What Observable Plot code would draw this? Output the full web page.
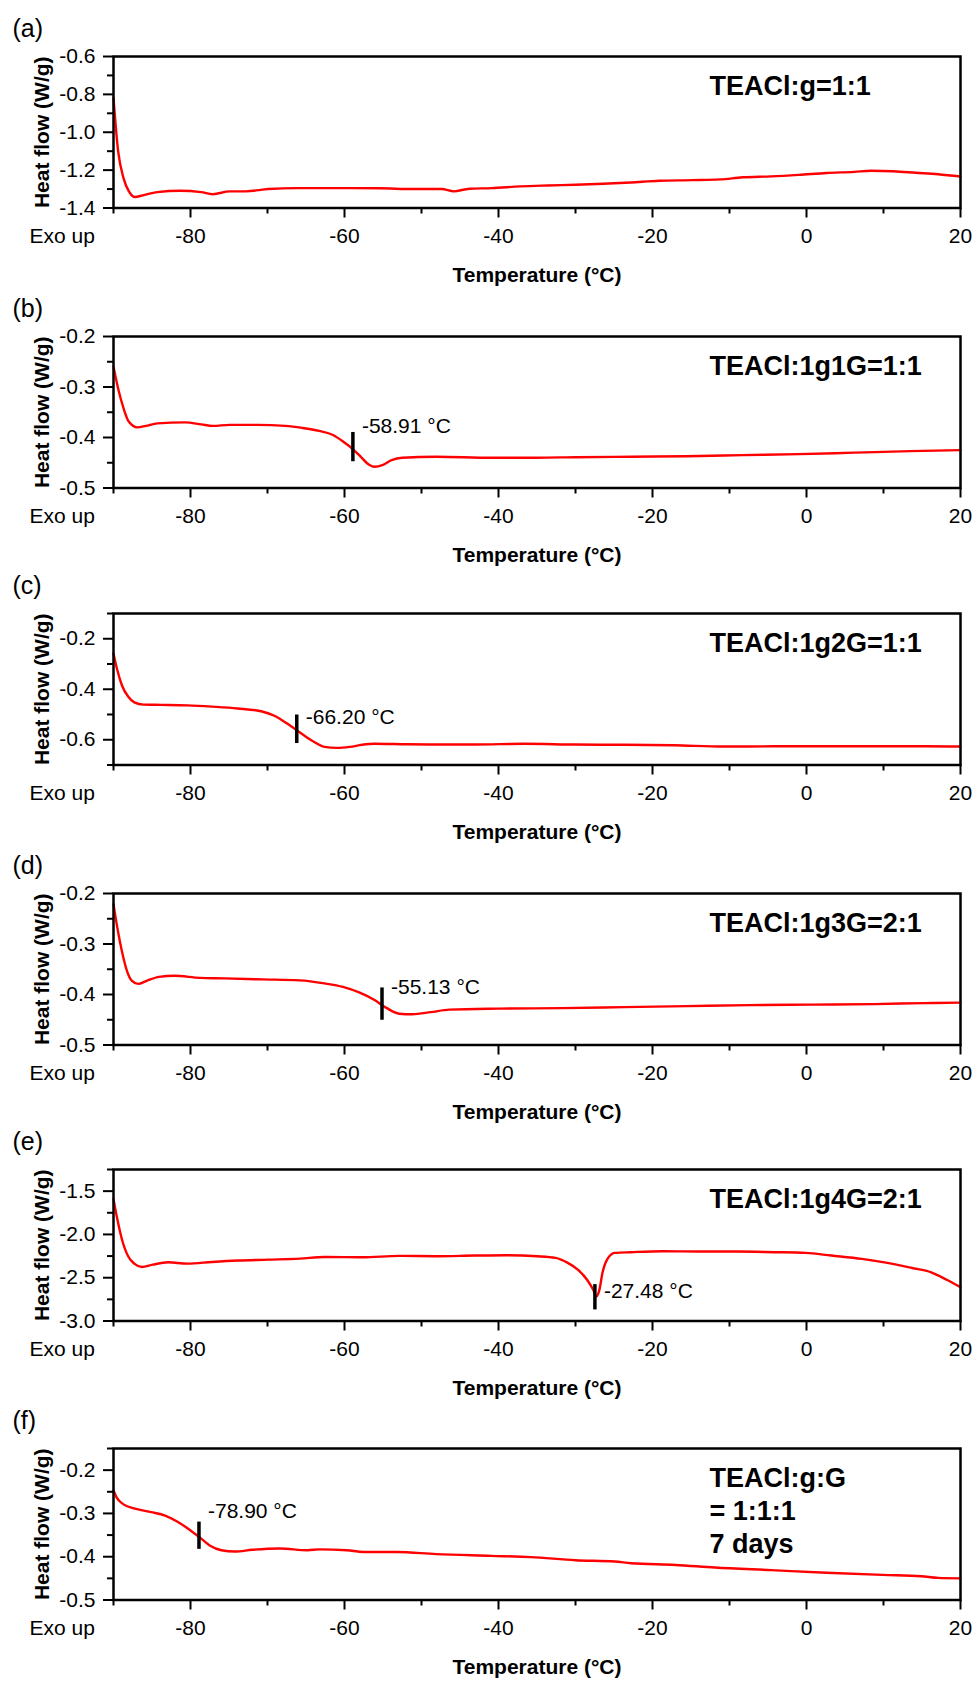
<!DOCTYPE html>
<html><head><meta charset="utf-8">
<script src="https://cdn.jsdelivr.net/npm/d3@7"></script>
<script src="https://cdn.jsdelivr.net/npm/@observablehq/plot@0.6"></script>
<style>
html,body{margin:0;padding:0;background:#fff;}
#chart{width:976px;}
#chart svg{display:block;}
</style></head><body><div id="chart"></div>
<script>
// ---------- data ----------
const panelLetters = ["(a)", "(b)", "(c)", "(d)", "(e)", "(f)"];
const panelTitles = ["TEACl:g=1:1", "TEACl:1g1G=1:1", "TEACl:1g2G=1:1", "TEACl:1g3G=2:1", "TEACl:1g4G=2:1", "TEACl:g:G\n= 1:1:1\n7 days"];
const xLabel = "Temperature (°C)";
const yLabel = "Heat flow (W/g)";
const exoLabel = "Exo up";
const xDomain = [-90, 20];
const xMajorTicks = [-80, -60, -40, -20, 0, 20];
const xMinorTicks = [-90, -70, -50, -30, -10, 10];
const yDomains = [[-1.4, -0.6], [-0.5, -0.2], [-0.7, -0.1], [-0.5, -0.2], [-3.0, -1.25], [-0.5, -0.15]];
const yMajorTicks = [
  [-1.4, -1.2, -1.0, -0.8, -0.6],
  [-0.5, -0.4, -0.3, -0.2],
  [-0.6, -0.4, -0.2],
  [-0.5, -0.4, -0.3, -0.2],
  [-3.0, -2.5, -2.0, -1.5],
  [-0.5, -0.4, -0.3, -0.2]
];
const yMinorTicks = [
  [-1.3, -1.1, -0.9, -0.7],
  [-0.45, -0.35, -0.25],
  [-0.7, -0.5, -0.3, -0.1],
  [-0.45, -0.35, -0.25],
  [-2.75, -2.25, -1.75, -1.25],
  [-0.45, -0.35, -0.25, -0.15]
];

const tempA = [-90, -89.4, -88.7, -88, -87.2, -86.2, -84.3, -81.4, -78.6, -77.1, -74.9, -72.8, -69.9, -66.2, -61.2, -55.4, -51, -47.4, -45.8, -43.8, -40.9, -37.2, -33.6, -30, -26.4, -22.8, -19.1, -14.8, -11.2, -8.3, -4.6, -1, 2.6, 6.2, 8.4, 11.3, 14.2, 17.1, 20];
const flowA = [-0.82, -1.10, -1.242, -1.312, -1.342, -1.333, -1.316, -1.309, -1.316, -1.327, -1.312, -1.312, -1.30, -1.295, -1.295, -1.296, -1.30, -1.30, -1.312, -1.298, -1.295, -1.286, -1.281, -1.277, -1.272, -1.265, -1.256, -1.253, -1.249, -1.238, -1.233, -1.225, -1.215, -1.209, -1.203, -1.206, -1.214, -1.222, -1.234];

const tempB = [-90, -89.4, -88.7, -88, -86.9, -85.8, -84.3, -80.7, -78.6, -77.1, -74.9, -71.3, -67.7, -65.5, -63.3, -61.5, -60.1, -59, -57.9, -56.8, -56.1, -55, -53.9, -52.5, -48.1, -40.9, -35.1, -30, -22.8, -15.5, -8.3, -1, 6.2, 13.5, 20];
const flowB = [-0.26, -0.303, -0.342, -0.369, -0.380, -0.377, -0.372, -0.370, -0.374, -0.377, -0.375, -0.375, -0.377, -0.381, -0.387, -0.395, -0.409, -0.422, -0.438, -0.454, -0.458, -0.454, -0.445, -0.44, -0.438, -0.44, -0.44, -0.439, -0.438, -0.437, -0.435, -0.433, -0.43, -0.427, -0.425];

const tempC = [-90, -89.5, -88.9, -88.1, -87.3, -86.1, -83.7, -80.4, -77.2, -73.9, -70.7, -69.1, -67.5, -65.8, -64.2, -62.6, -61, -59.3, -57.7, -56.1, -52, -48, -43.1, -36.6, -30.1, -23.7, -17.2, -10.7, -4.2, 2.3, 8.8, 15.3, 20];
const flowC = [-0.259, -0.325, -0.385, -0.429, -0.452, -0.461, -0.462, -0.464, -0.469, -0.476, -0.488, -0.505, -0.535, -0.571, -0.604, -0.628, -0.632, -0.628, -0.620, -0.616, -0.618, -0.619, -0.619, -0.616, -0.619, -0.620, -0.622, -0.627, -0.626, -0.626, -0.626, -0.626, -0.627];

const tempD = [-90, -89.5, -88.9, -88.3, -87.6, -86.8, -85.7, -84.1, -82.1, -78.8, -75.6, -70.7, -65.8, -62.6, -60.2, -58.1, -56.1, -54.5, -52.9, -51.2, -48.8, -46.4, -39.9, -31.8, -23.7, -15.5, -7.4, 0.7, 8.8, 15.3, 20];
const flowD = [-0.221, -0.268, -0.315, -0.351, -0.373, -0.379, -0.373, -0.365, -0.363, -0.367, -0.368, -0.370, -0.372, -0.378, -0.385, -0.396, -0.411, -0.427, -0.438, -0.439, -0.435, -0.43, -0.428, -0.427, -0.425, -0.423, -0.421, -0.42, -0.419, -0.417, -0.416];

const tempE = [-90, -89.5, -88.9, -88.1, -87.3, -86.3, -84.9, -82.9, -80.4, -77.2, -73.9, -69.9, -65.8, -62.6, -57.7, -52.9, -48, -43.1, -39.1, -35, -32.6, -31, -29.7, -28.5, -27.7, -27.3, -26.9, -26.5, -25.9, -24.9, -22.8, -18.8, -13.9, -9.1, -4.2, -0.1, 3.2, 7.2, 10.5, 13.7, 16.2, 18.2, 20];
const flowE = [-1.593, -1.826, -2.058, -2.252, -2.337, -2.376, -2.349, -2.322, -2.337, -2.318, -2.302, -2.291, -2.279, -2.26, -2.264, -2.248, -2.252, -2.244, -2.24, -2.252, -2.271, -2.329, -2.407, -2.523, -2.64, -2.717, -2.64, -2.446, -2.291, -2.213, -2.205, -2.194, -2.198, -2.198, -2.205, -2.213, -2.244, -2.283, -2.329, -2.388, -2.438, -2.523, -2.609];

const tempF = [-90, -89.6, -88.7, -87.2, -85.1, -83.3, -81.8, -80.4, -78.9, -77.5, -76, -74.2, -72, -68.4, -64.8, -63.3, -59.7, -57.5, -53.2, -48.1, -40.9, -35.8, -30, -24.9, -22.8, -17, -11.9, -4.6, 2.6, 9.9, 14.9, 17.1, 20];
const flowF = [-0.247, -0.263, -0.279, -0.289, -0.297, -0.305, -0.318, -0.334, -0.354, -0.374, -0.385, -0.388, -0.384, -0.381, -0.385, -0.383, -0.385, -0.389, -0.389, -0.394, -0.398, -0.401, -0.408, -0.411, -0.415, -0.419, -0.425, -0.431, -0.437, -0.442, -0.445, -0.449, -0.45];

const temps = [tempA, tempB, tempC, tempD, tempE, tempF];
const flows = [flowA, flowB, flowC, flowD, flowE, flowF];

// transition markers (panel b..f)
const markerTemps = [null, -58.91, -66.20, -55.13, -27.48, -78.90];
const markerLabels = [null, "-58.91 °C", "-66.20 °C", "-55.13 °C", "-27.48 °C", "-78.90 °C"];
const markerTop = [null, -0.39, -0.502, -0.387, -2.58, -0.32];
const markerBottom = [null, -0.448, -0.615, -0.451, -2.872, -0.383];
const markerLabelY = [null, -0.377, -0.512, -0.385, -2.651, -0.295];

// ---------- layout ----------
const FONT = "'Liberation Sans', Arial, Helvetica, sans-serif";
const W = 976;
const svgHeights = [280, 277, 280, 276, 279, 289];
const mTop = 56, plotH = 151.5, mLeft = 113, mRight = 16;

const root = document.getElementById("chart");

for (let i = 0; i < 6; i++) {
  const data = temps[i].map((t, j) => ({T: t, HF: flows[i][j]}));
  const H = svgHeights[i];
  const marks = [
    Plot.line(data, {x: "T", y: "HF", stroke: "#ff0000", strokeWidth: 2.4, curve: "monotone-x"}),
    Plot.frame({stroke: "black", strokeWidth: 2.5}),
    Plot.axisX(xMinorTicks, {tickSize: 6, strokeWidth: 2, tickFormat: () => "", label: null}),
    Plot.axisX(xMajorTicks, {tickSize: 10, tickPadding: 10, strokeWidth: 2, tickFormat: d => String(d), label: null}),
    Plot.axisY(yMinorTicks[i], {tickSize: 6, strokeWidth: 2, tickFormat: () => "", label: null}),
    Plot.axisY(yMajorTicks[i], {tickSize: 10, tickPadding: 8, strokeWidth: 2, tickFormat: d => d.toFixed(1), label: null}),
    Plot.text([panelLetters[i]], {text: d => d, frameAnchor: "top-left", dx: -101, dy: -28, textAnchor: "start", lineAnchor: "middle", fontSize: 25}),
    Plot.text([panelTitles[i]], {text: d => d, frameAnchor: "top-left", dx: 596, dy: 15, textAnchor: "start", lineAnchor: "top", lineHeight: 1.22, fontSize: 27, fontWeight: "bold"}),
    Plot.text([exoLabel], {text: d => d, frameAnchor: "bottom-left", dx: -84, dy: 28.5, textAnchor: "start", lineAnchor: "middle"}),
    Plot.text([xLabel], {text: d => d, frameAnchor: "bottom", dy: 67, textAnchor: "middle", lineAnchor: "middle", fontWeight: "bold"}),
    Plot.text([yLabel], {text: d => d, frameAnchor: "left", dx: -71, rotate: -90, textAnchor: "middle", lineAnchor: "middle", fontWeight: "bold"})
  ];
  if (markerTemps[i] !== null) {
    const m = [{T: markerTemps[i], top: markerTop[i], bottom: markerBottom[i], ly: markerLabelY[i], label: markerLabels[i]}];
    marks.push(Plot.ruleX(m, {x: "T", y1: "top", y2: "bottom", stroke: "black", strokeWidth: 3.5}));
    marks.push(Plot.text(m, {x: "T", y: "ly", text: "label", dx: 9, textAnchor: "start", lineAnchor: "middle"}));
  }
  const svg = Plot.plot({
    width: W,
    height: H,
    marginTop: mTop,
    marginLeft: mLeft,
    marginRight: mRight,
    marginBottom: H - mTop - plotH,
    x: {domain: xDomain, label: null},
    y: {domain: yDomains[i], label: null},
    style: {fontFamily: FONT, fontSize: "21px", color: "black", background: "white", overflow: "visible"},
    marks
  });
  root.appendChild(svg);
}
</script>
</body></html>
